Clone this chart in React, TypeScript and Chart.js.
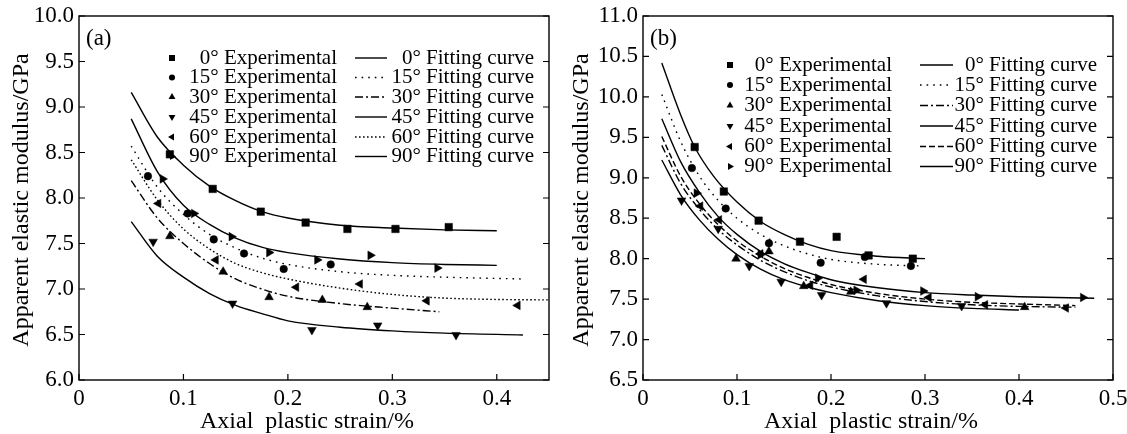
import React, { useEffect, useRef } from "react";
import { Chart, registerables } from "chart.js";

Chart.register(...registerables);

const FONT = '"Liberation Serif", "DejaVu Serif", serif';

// ---------- shared labels ----------
const ANGLES = ["0°", "15°", "30°", "45°", "60°", "90°"];
const X_TITLE = "Axial  plastic strain/%";
const Y_TITLE = "Apparent elastic modulus/GPa";

// ---------- Panel (a) ----------
const A_X_TICKS = [0, 0.1, 0.2, 0.3, 0.4];
const A_Y_TICKS = [6.0, 6.5, 7.0, 7.5, 8.0, 8.5, 9.0, 9.5, 10.0];

const A_EXP0_X = [0.087, 0.128, 0.174, 0.217, 0.257, 0.303, 0.354];
const A_EXP0_Y = [8.48, 8.1, 7.85, 7.73, 7.66, 7.66, 7.68];
const A_EXP15_X = [0.066, 0.104, 0.129, 0.158, 0.196, 0.241];
const A_EXP15_Y = [8.24, 7.83, 7.545, 7.39, 7.22, 7.27];
const A_EXP30_X = [0.087, 0.138, 0.182, 0.233, 0.276];
const A_EXP30_Y = [7.58, 7.19, 6.91, 6.88, 6.8];
const A_EXP45_X = [0.071, 0.147, 0.223, 0.286, 0.361];
const A_EXP45_Y = [7.52, 6.84, 6.55, 6.6, 6.495];
const A_EXP60_X = [0.076, 0.131, 0.208, 0.269, 0.333, 0.42];
const A_EXP60_Y = [7.94, 7.32, 7.02, 7.055, 6.87, 6.82];
const A_EXP90_X = [0.08, 0.11, 0.146, 0.182, 0.228, 0.279, 0.343];
const A_EXP90_Y = [8.21, 7.83, 7.575, 7.4, 7.32, 7.37, 7.23];

const A_FIT0_X = [0.05, 0.075, 0.1, 0.125, 0.15, 0.175, 0.2, 0.25, 0.3, 0.35, 0.4];
const A_FIT0_Y = [9.16, 8.67, 8.36, 8.13, 7.97, 7.85, 7.78, 7.7, 7.67, 7.65, 7.64];
const A_FIT15_X = [0.05, 0.075, 0.1, 0.125, 0.15, 0.175, 0.2, 0.25, 0.3, 0.35, 0.425];
const A_FIT15_Y = [8.57, 8.12, 7.82, 7.6, 7.45, 7.34, 7.27, 7.19, 7.15, 7.13, 7.11];
const A_FIT30_X = [0.05, 0.075, 0.1, 0.125, 0.15, 0.175, 0.2, 0.25, 0.3, 0.345];
const A_FIT30_Y = [8.19, 7.78, 7.5, 7.28, 7.11, 7.0, 6.92, 6.84, 6.79, 6.75];
const A_FIT45_X = [0.05, 0.075, 0.1, 0.125, 0.15, 0.175, 0.2, 0.25, 0.3, 0.35, 0.425];
const A_FIT45_Y = [7.74, 7.36, 7.13, 6.95, 6.82, 6.73, 6.65, 6.58, 6.54, 6.515, 6.495];
const A_FIT60_X = [0.05, 0.075, 0.1, 0.125, 0.15, 0.175, 0.2, 0.25, 0.3, 0.35, 0.4, 0.45];
const A_FIT60_Y = [8.42, 7.98, 7.66, 7.44, 7.28, 7.18, 7.11, 7.01, 6.94, 6.9, 6.885, 6.88];
const A_FIT90_X = [0.05, 0.075, 0.1, 0.125, 0.15, 0.175, 0.2, 0.25, 0.3, 0.35, 0.4];
const A_FIT90_Y = [8.87, 8.29, 7.92, 7.71, 7.56, 7.46, 7.4, 7.33, 7.29, 7.27, 7.26];

// ---------- Panel (b) ----------
const B_X_TICKS = [0, 0.1, 0.2, 0.3, 0.4, 0.5];
const B_Y_TICKS = [6.5, 7.0, 7.5, 8.0, 8.5, 9.0, 9.5, 10.0, 10.5, 11.0];

const B_EXP0_X = [0.055, 0.086, 0.123, 0.167, 0.206, 0.24, 0.287];
const B_EXP0_Y = [9.38, 8.83, 8.47, 8.21, 8.27, 8.04, 8.0];
const B_EXP15_X = [0.052, 0.088, 0.134, 0.189, 0.236, 0.285];
const B_EXP15_Y = [9.12, 8.62, 8.19, 7.95, 8.02, 7.91];
const B_EXP30_X = [0.099, 0.134, 0.171, 0.221, 0.406];
const B_EXP30_Y = [8.0, 8.09, 7.66, 7.59, 7.4];
const B_EXP45_X = [0.041, 0.08, 0.113, 0.147, 0.19, 0.259, 0.339];
const B_EXP45_Y = [8.72, 8.37, 7.91, 7.715, 7.55, 7.45, 7.415];
const B_EXP60_X = [0.061, 0.081, 0.125, 0.178, 0.235, 0.304, 0.364, 0.45];
const B_EXP60_Y = [8.65, 8.48, 8.06, 7.67, 7.745, 7.52, 7.43, 7.39];
const B_EXP90_X = [0.057, 0.125, 0.186, 0.227, 0.298, 0.356, 0.468];
const B_EXP90_Y = [8.81, 8.05, 7.76, 7.61, 7.6, 7.53, 7.52];

const B_FIT0_X = [0.02, 0.04, 0.055, 0.075, 0.1, 0.125, 0.15, 0.175, 0.2, 0.25, 0.3];
const B_FIT0_Y = [10.42, 9.78, 9.38, 9.02, 8.7, 8.46, 8.3, 8.18, 8.1, 8.03, 8.0];
const B_FIT15_X = [0.02, 0.04, 0.06, 0.08, 0.1, 0.125, 0.15, 0.175, 0.2, 0.25, 0.295];
const B_FIT15_Y = [10.03, 9.45, 9.02, 8.72, 8.5, 8.3, 8.16, 8.06, 7.99, 7.93, 7.91];
const B_FIT30_X = [0.02, 0.04, 0.06, 0.08, 0.1, 0.125, 0.15, 0.175, 0.2, 0.25, 0.3, 0.35, 0.4, 0.46];
const B_FIT30_Y = [9.4, 8.93, 8.61, 8.36, 8.17, 7.98, 7.84, 7.73, 7.65, 7.54, 7.47, 7.43, 7.41, 7.4];
const B_FIT45_X = [0.02, 0.04, 0.06, 0.08, 0.1, 0.125, 0.15, 0.175, 0.2, 0.25, 0.3, 0.35, 0.4];
const B_FIT45_Y = [9.22, 8.79, 8.48, 8.24, 8.05, 7.87, 7.74, 7.65, 7.58, 7.48, 7.42, 7.385, 7.365];
const B_FIT60_X = [0.02, 0.04, 0.06, 0.08, 0.1, 0.125, 0.15, 0.175, 0.2, 0.25, 0.3, 0.35, 0.4, 0.46];
const B_FIT60_Y = [9.51, 9.02, 8.68, 8.42, 8.22, 8.03, 7.88, 7.77, 7.68, 7.57, 7.5, 7.46, 7.44, 7.42];
const B_FIT90_X = [0.02, 0.04, 0.06, 0.08, 0.1, 0.125, 0.15, 0.175, 0.2, 0.25, 0.3, 0.35, 0.4, 0.48];
const B_FIT90_Y = [9.73, 9.2, 8.82, 8.52, 8.3, 8.09, 7.94, 7.83, 7.74, 7.64, 7.58, 7.55, 7.53, 7.51];

// ---------- styles ----------
type Marker = { style: string; rotation: number; radius: number };
const MARKERS: Marker[] = [
  { style: "rect", rotation: 0, radius: 5.3 },
  { style: "circle", rotation: 0, radius: 3.8 },
  { style: "triangle", rotation: 0, radius: 5 },
  { style: "triangle", rotation: 180, radius: 5 },
  { style: "triangle", rotation: 270, radius: 5 },
  { style: "triangle", rotation: 90, radius: 5 },
];
const DASH_A: number[][] = [[], [1.6, 5], [8, 3, 2, 3], [], [1.6, 2.4], []];
const DASH_B: number[][] = [[], [1.6, 5], [8, 3, 2, 3], [], [6, 3], []];

type Series = { expX: number[]; expY: number[]; fitX: number[]; fitY: number[] };

const A_SERIES: Series[] = [
  { expX: A_EXP0_X, expY: A_EXP0_Y, fitX: A_FIT0_X, fitY: A_FIT0_Y },
  { expX: A_EXP15_X, expY: A_EXP15_Y, fitX: A_FIT15_X, fitY: A_FIT15_Y },
  { expX: A_EXP30_X, expY: A_EXP30_Y, fitX: A_FIT30_X, fitY: A_FIT30_Y },
  { expX: A_EXP45_X, expY: A_EXP45_Y, fitX: A_FIT45_X, fitY: A_FIT45_Y },
  { expX: A_EXP60_X, expY: A_EXP60_Y, fitX: A_FIT60_X, fitY: A_FIT60_Y },
  { expX: A_EXP90_X, expY: A_EXP90_Y, fitX: A_FIT90_X, fitY: A_FIT90_Y },
];
const B_SERIES: Series[] = [
  { expX: B_EXP0_X, expY: B_EXP0_Y, fitX: B_FIT0_X, fitY: B_FIT0_Y },
  { expX: B_EXP15_X, expY: B_EXP15_Y, fitX: B_FIT15_X, fitY: B_FIT15_Y },
  { expX: B_EXP30_X, expY: B_EXP30_Y, fitX: B_FIT30_X, fitY: B_FIT30_Y },
  { expX: B_EXP45_X, expY: B_EXP45_Y, fitX: B_FIT45_X, fitY: B_FIT45_Y },
  { expX: B_EXP60_X, expY: B_EXP60_Y, fitX: B_FIT60_X, fitY: B_FIT60_Y },
  { expX: B_EXP90_X, expY: B_EXP90_Y, fitX: B_FIT90_X, fitY: B_FIT90_Y },
];

type PanelCfg = {
  tag: string;
  series: Series[];
  dashes: number[][];
  xMin: number; xMax: number; yMin: number; yMax: number;
  xTicks: number[]; yTicks: number[];
  yWidth: number; padRight: number;
  legend: { markerX: number; col1Right: number; lineX1: number; lineX2: number; col2Right: number; rows: number[] };
};

const PANEL_A: PanelCfg = {
  tag: "(a)", series: A_SERIES, dashes: DASH_A,
  xMin: 0, xMax: 0.45, yMin: 6, yMax: 10,
  xTicks: A_X_TICKS, yTicks: A_Y_TICKS,
  yWidth: 79, padRight: 11,
  legend: { markerX: 172, col1Right: 337, lineX1: 355, lineX2: 387, col2Right: 534, rows: [58, 77.5, 97, 117, 137, 156.5] },
};
const PANEL_B: PanelCfg = {
  tag: "(b)", series: B_SERIES, dashes: DASH_B,
  xMin: 0, xMax: 0.5, yMin: 6.5, yMax: 11,
  xTicks: B_X_TICKS, yTicks: B_Y_TICKS,
  yWidth: 83, padRight: 14,
  legend: { markerX: 170, col1Right: 332, lineX1: 360, lineX2: 393, col2Right: 537, rows: [65, 85, 105.5, 126, 146.5, 166.5] },
};

function drawMarker(ctx: CanvasRenderingContext2D, m: Marker, x: number, y: number, r: number) {
  ctx.beginPath();
  if (m.style === "rect") {
    const s = r * Math.SQRT1_2;
    ctx.rect(x - s, y - s, 2 * s, 2 * s);
  } else if (m.style === "circle") {
    ctx.arc(x, y, r, 0, Math.PI * 2);
  } else {
    let rad = (m.rotation * Math.PI) / 180;
    ctx.moveTo(x + Math.sin(rad) * r, y - Math.cos(rad) * r);
    for (let k = 0; k < 2; k++) {
      rad += (2 * Math.PI) / 3;
      ctx.lineTo(x + Math.sin(rad) * r, y - Math.cos(rad) * r);
    }
    ctx.closePath();
  }
  ctx.fill();
}

function makeDecorPlugin(cfg: PanelCfg) {
  return {
    id: "decor" + cfg.tag,
    afterDraw(chart: any) {
      const ctx: CanvasRenderingContext2D = chart.ctx;
      const a = chart.chartArea;
      const xs = chart.scales.x;
      const ys = chart.scales.y;
      ctx.save();
      ctx.strokeStyle = "#000";
      ctx.fillStyle = "#000";
      ctx.setLineDash([]);
      // frame
      ctx.lineWidth = 1.4;
      ctx.strokeRect(a.left, a.top, a.right - a.left, a.bottom - a.top);
      // inward ticks (bottom, left, right)
      ctx.lineWidth = 1.2;
      const TL = 6;
      ctx.beginPath();
      cfg.xTicks.forEach((v) => {
        const px = xs.getPixelForValue(v);
        ctx.moveTo(px, a.bottom);
        ctx.lineTo(px, a.bottom - TL);
      });
      cfg.yTicks.forEach((v) => {
        const py = ys.getPixelForValue(v);
        ctx.moveTo(a.left, py);
        ctx.lineTo(a.left + TL, py);
        ctx.moveTo(a.right, py);
        ctx.lineTo(a.right - TL, py);
      });
      ctx.stroke();

      // axis titles
      ctx.font = `24px ${FONT}`;
      ctx.textAlign = "center";
      ctx.textBaseline = "alphabetic";
      ctx.fillText(X_TITLE, a.left + 228, 428);
      ctx.save();
      ctx.translate(28, (a.top + a.bottom) / 2 + 2);
      ctx.rotate(-Math.PI / 2);
      ctx.fillText(Y_TITLE, 0, 0);
      ctx.restore();

      // panel tag
      ctx.font = `23px ${FONT}`;
      ctx.textAlign = "left";
      ctx.textBaseline = "middle";
      ctx.fillText(cfg.tag, a.left + 7, 39);

      // legend
      const L = cfg.legend;
      ctx.font = `21px ${FONT}`;
      ctx.textBaseline = "middle";
      ctx.textAlign = "right";
      ANGLES.forEach((ang, i) => {
        const y = L.rows[i];
        drawMarker(ctx, MARKERS[i], L.markerX, y, MARKERS[i].radius * 0.8);
        ctx.fillText(`${ang} Experimental`, L.col1Right, y);
        ctx.fillText(`${ang} Fitting curve`, L.col2Right, y);
        ctx.beginPath();
        ctx.lineWidth = 1.4;
        ctx.setLineDash(cfg.dashes[i]);
        ctx.moveTo(L.lineX1, y);
        ctx.lineTo(L.lineX2, y);
        ctx.stroke();
        ctx.setLineDash([]);
      });
      ctx.restore();
    },
  };
}

function buildConfig(cfg: PanelCfg): any {
  const datasets: any[] = [];
  cfg.series.forEach((s, i) => {
    datasets.push({
      data: s.fitX.map((x, j) => ({ x, y: s.fitY[j] })),
      showLine: true,
      borderColor: "#000",
      borderWidth: 1.4,
      borderDash: cfg.dashes[i],
      pointRadius: 0,
      cubicInterpolationMode: "monotone",
      fill: false,
      order: 2,
    });
  });
  cfg.series.forEach((s, i) => {
    const m = MARKERS[i];
    datasets.push({
      data: s.expX.map((x, j) => ({ x, y: s.expY[j] })),
      showLine: false,
      pointStyle: m.style,
      pointRotation: m.rotation,
      pointRadius: m.radius,
      pointBackgroundColor: "#000",
      pointBorderColor: "#000",
      pointBorderWidth: 0.5,
      order: 1,
    });
  });
  const tickFont = { family: FONT, size: 23 };
  return {
    type: "scatter",
    data: { datasets },
    options: {
      animation: false,
      responsive: false,
      devicePixelRatio: 1,
      events: [],
      layout: { padding: { top: 16, right: cfg.padRight, left: 0, bottom: 0 } },
      plugins: { legend: { display: false }, tooltip: { enabled: false }, title: { display: false } },
      scales: {
        x: {
          type: "linear",
          min: cfg.xMin,
          max: cfg.xMax,
          afterBuildTicks: (s: any) => {
            s.ticks = cfg.xTicks.map((v) => ({ value: v }));
          },
          afterFit: (s: any) => {
            s.height = 54;
            s.paddingLeft = 0;
            s.paddingRight = 0;
          },
          grid: { display: false, drawTicks: false },
          border: { display: false },
          ticks: {
            autoSkip: false,
            maxRotation: 0,
            color: "#000",
            font: tickFont,
            padding: 5,
            callback: (v: any) => (Number(v) === 0 ? "0" : Number(v).toFixed(1)),
          },
        },
        y: {
          type: "linear",
          min: cfg.yMin,
          max: cfg.yMax,
          afterBuildTicks: (s: any) => {
            s.ticks = cfg.yTicks.map((v) => ({ value: v }));
          },
          afterFit: (s: any) => {
            s.width = cfg.yWidth;
            s.paddingTop = 0;
            s.paddingBottom = 0;
          },
          grid: { display: false, drawTicks: false },
          border: { display: false },
          ticks: {
            autoSkip: false,
            color: "#000",
            font: tickFont,
            padding: 5,
            callback: (v: any) => Number(v).toFixed(1),
          },
        },
      },
    },
    plugins: [makeDecorPlugin(cfg)],
  };
}

function Panel({ cfg, left, width }: { cfg: PanelCfg; left: number; width: number }) {
  const ref = useRef<HTMLCanvasElement>(null);
  useEffect(() => {
    let chart: any = null;
    let cancelled = false;
    const make = () => {
      if (cancelled || !ref.current) return;
      chart = new Chart(ref.current, buildConfig(cfg));
    };
    const fonts: any = (document as any).fonts;
    if (fonts && fonts.load) {
      Promise.all([
        fonts.load(`21px "Liberation Serif"`),
        fonts.load(`23px "Liberation Serif"`),
      ]).then(make, make);
    } else {
      make();
    }
    return () => {
      cancelled = true;
      if (chart) chart.destroy();
    };
  }, [cfg]);
  return (
    <canvas
      ref={ref}
      width={width}
      height={434}
      style={{ position: "absolute", left, top: 0, width, height: 434, display: "block" }}
    />
  );
}

export default function App() {
  return (
    <div style={{ position: "fixed", left: 0, top: 0, width: 1127, height: 434, background: "#fff", overflow: "hidden" }}>
      <Panel cfg={PANEL_A} left={0} width={560} />
      <Panel cfg={PANEL_B} left={560} width={567} />
    </div>
  );
}
